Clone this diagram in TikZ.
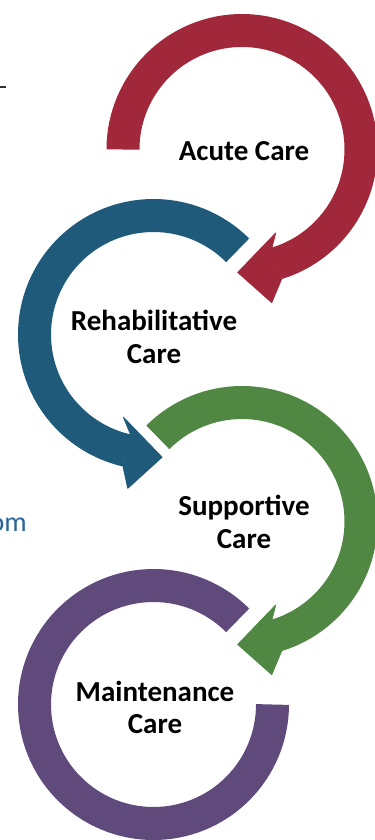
\documentclass[tikz,border=0pt]{standalone}
\usepackage{fontspec}
\setmainfont{Carlito}
\usepackage{xcolor}
\definecolor{acutered}{HTML}{A1283A}
\definecolor{rehabblue}{HTML}{1F5A7B}
\definecolor{supportgreen}{HTML}{4F8743}
\definecolor{maintpurple}{HTML}{604A7B}
\definecolor{linkblue}{HTML}{2A6596}
\usepackage{tikz}
\usetikzlibrary{calc}
\tikzstyle{ring} = [line width=24.75pt]
\tikzstyle{head} = [line width=0.6pt, line join=round]
\tikzstyle{stagelabel} = [align=center, inner sep=0pt, font=\bfseries\fontsize{21.75}{24.4}\selectfont]

\begin{document}
\begin{tikzpicture}[x=0.75pt, y=0.75pt]
    \useasboundingbox (0,0) rectangle (375,-840);

    % centres of the four rings
    \coordinate (acute) at (242,-149.5);
    \coordinate (rehab) at (153.5,-334.5);
    \coordinate (support) at (242,-521.5);
    \coordinate (maint) at (153.5,-704.5);

    % acute care, clockwise, head at the bottom
    \draw[ring, acutered] ($(acute)+(180:119)$) arc[start angle=180, end angle=-73, radius=119];
    \filldraw[head, acutered] ($(acute)+(-73:102.5)$) -- ($(acute)+(-68:90)$) -- ($(acute)+(-92:123)$)
        -- ($(acute)+(-79:156)$) -- ($(acute)+(-73:135.5)$) -- cycle;

    % rehabilitative care, counter clockwise
    \draw[ring, rehabblue] ($(rehab)+(45:119)$) arc[start angle=45, end angle=257, radius=119];
    \filldraw[head, rehabblue] ($(rehab)+(257:102.5)$) -- ($(rehab)+(250:88)$) -- ($(rehab)+(274:123)$)
        -- ($(rehab)+(260.5:156)$) -- ($(rehab)+(257:135.5)$) -- cycle;

    % supportive care, same as acute
    \draw[ring, supportgreen] ($(support)+(135:119)$) arc[start angle=135, end angle=-73, radius=119];
    \filldraw[head, supportgreen] ($(support)+(-73:102.5)$) -- ($(support)+(-68:90)$) -- ($(support)+(-92:123)$)
        -- ($(support)+(-79:156)$) -- ($(support)+(-73:135.5)$) -- cycle;

    % maintenance care, no head
    \draw[ring, maintpurple] ($(maint)+(45:119)$) arc[start angle=45, end angle=360, radius=119];

    % labels
    \node[stagelabel] (acutelbl) at (244,-151) {Acute Care};
    \node[stagelabel] (rehablbl) at (154,-337) {Rehabilitative\\Care};
    \node[stagelabel] (supportlbl) at (244,-522) {Supportive\\Care};
    \node[stagelabel] (maintlbl) at (155,-707.5) {Maintenance\\Care};

    % bits cut off at the left edge
    \draw[line width=1.1pt, black!80] (0,-87) -- (6,-87);
    \node[anchor=base east, inner sep=0pt, text=linkblue, font=\fontsize{21}{24}\selectfont] (weblink) at (27,-531) {om};
\end{tikzpicture}
\end{document}
